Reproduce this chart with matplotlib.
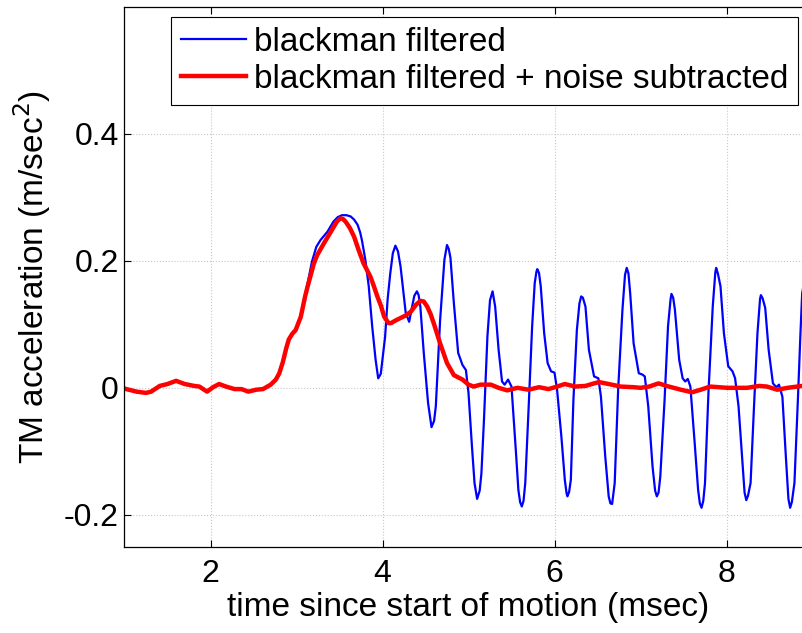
import matplotlib
matplotlib.use("Agg")
import matplotlib.pyplot as plt

plt.rcParams['font.family'] = ['Liberation Sans', 'DejaVu Sans']

# early part, both traces coincide
t_early = [1.00, 1.02, 1.14, 1.25, 1.31, 1.41, 1.50, 1.60, 1.70, 1.81, 1.87,
           1.96, 2.03, 2.10, 2.18, 2.28, 2.36, 2.44, 2.53, 2.61, 2.70, 2.76,
           2.80, 2.84, 2.88, 2.91, 2.95, 2.99, 3.05, 3.10]
a_early = [-0.001, -0.002, -0.006, -0.008, -0.006, 0.003, 0.006, 0.011, 0.006,
           0.003, 0.002, -0.006, 0.001, 0.006, 0.002, -0.002, -0.002, -0.006,
           -0.003, -0.002, 0.005, 0.013, 0.023, 0.040, 0.062, 0.076, 0.085,
           0.091, 0.112, 0.144]

# blackman filtered
t_blue = [3.13, 3.18, 3.23, 3.28, 3.36, 3.43, 3.48, 3.53, 3.58, 3.63, 3.67,
          3.71, 3.74, 3.76, 3.80, 3.84, 3.88, 3.92, 3.95, 3.98, 4.03, 4.06,
          4.09, 4.12, 4.15, 4.18, 4.21, 4.27, 4.31, 4.34, 4.37, 4.40, 4.42,
          4.44, 4.48, 4.53, 4.57, 4.60, 4.62, 4.67, 4.72, 4.75, 4.77, 4.79,
          4.83, 4.88, 4.93, 4.97, 5.00, 5.04, 5.07, 5.10, 5.13, 5.15, 5.18,
          5.22, 5.25, 5.28, 5.31, 5.35, 5.39, 5.42, 5.46, 5.50, 5.55, 5.58,
          5.60, 5.62, 5.64, 5.66, 5.70, 5.74, 5.77, 5.79, 5.80, 5.82, 5.84,
          5.88, 5.92, 5.96, 6.00, 6.03, 6.08, 6.12, 6.14, 6.15, 6.17, 6.19,
          6.22, 6.26, 6.29, 6.31, 6.33, 6.36, 6.40, 6.46, 6.51, 6.54, 6.59,
          6.63, 6.65, 6.67, 6.70, 6.74, 6.79, 6.82, 6.84, 6.86, 6.88, 6.92,
          6.98, 7.02, 7.05, 7.09, 7.14, 7.17, 7.19, 7.21, 7.23, 7.28, 7.32,
          7.35, 7.36, 7.38, 7.40, 7.45, 7.49, 7.52, 7.55, 7.58, 7.63, 7.67,
          7.69, 7.71, 7.73, 7.75, 7.79, 7.84, 7.87, 7.88, 7.90, 7.93, 7.97,
          8.02, 8.07, 8.10, 8.14, 8.18, 8.21, 8.23, 8.25, 8.28, 8.32, 8.36,
          8.39, 8.40, 8.42, 8.45, 8.49, 8.54, 8.58, 8.61, 8.65, 8.69, 8.72,
          8.74, 8.76, 8.79, 8.83, 8.86, 8.88, 8.92]
a_blue = [0.165, 0.199, 0.222, 0.233, 0.246, 0.262, 0.269, 0.272, 0.272, 0.270,
          0.265, 0.257, 0.245, 0.233, 0.202, 0.160, 0.097, 0.044, 0.015, 0.022,
          0.080, 0.140, 0.180, 0.212, 0.224, 0.215, 0.191, 0.118, 0.104, 0.125,
          0.145, 0.152, 0.146, 0.128, 0.055, -0.024, -0.062, -0.052, -0.029,
          0.107, 0.202, 0.225, 0.219, 0.205, 0.133, 0.055, 0.036, 0.028, -0.008,
          -0.092, -0.150, -0.175, -0.162, -0.135, -0.050, 0.081, 0.138, 0.152,
          0.128, 0.060, 0.010, 0.005, 0.013, 0.002, -0.098, -0.161, -0.180,
          -0.187, -0.178, -0.150, -0.029, 0.097, 0.165, 0.183, 0.187, 0.181,
          0.160, 0.086, 0.039, 0.026, 0.024, -0.003, -0.077, -0.145, -0.166,
          -0.171, -0.164, -0.145, -0.019, 0.091, 0.133, 0.144, 0.142, 0.128,
          0.060, 0.018, 0.015, -0.014, -0.108, -0.171, -0.182, -0.183, -0.150,
          -0.003, 0.123, 0.178, 0.189, 0.180, 0.149, 0.070, 0.023, 0.021, 0.018,
          -0.029, -0.124, -0.162, -0.171, -0.165, -0.140, -0.019, 0.097, 0.140,
          0.148, 0.142, 0.123, 0.044, 0.015, 0.010, 0.014, 0.002, -0.087, -0.161,
          -0.182, -0.189, -0.178, -0.150, -0.008, 0.128, 0.182, 0.189, 0.180,
          0.160, 0.086, 0.034, 0.026, 0.015, -0.029, -0.108, -0.165, -0.177,
          -0.170, -0.150, -0.029, 0.086, 0.140, 0.146, 0.141, 0.126, 0.060,
          0.007, 0.001, 0.005, -0.014, -0.108, -0.175, -0.189, -0.180, -0.150,
          -0.019, 0.086, 0.149, 0.180]

# blackman filtered + noise subtracted
t_red = [3.13, 3.16, 3.20, 3.24, 3.32, 3.40, 3.47, 3.51, 3.54, 3.57, 3.62,
         3.67, 3.72, 3.78, 3.86, 3.90, 3.94, 3.98, 4.02, 4.07, 4.10, 4.15,
         4.21, 4.27, 4.33, 4.39, 4.44, 4.48, 4.52, 4.56, 4.60, 4.67, 4.75,
         4.83, 4.93, 5.00, 5.06, 5.14, 5.26, 5.35, 5.45, 5.57, 5.70, 5.82,
         5.93, 6.03, 6.12, 6.24, 6.36, 6.46, 6.52, 6.63, 6.77, 6.92, 7.00,
         7.10, 7.21, 7.33, 7.47, 7.60, 7.70, 7.81, 8.01, 8.24, 8.38, 8.47,
         8.59, 8.71, 8.88, 8.95]
a_red = [0.160, 0.175, 0.195, 0.209, 0.228, 0.246, 0.262, 0.267, 0.266, 0.262,
         0.252, 0.238, 0.218, 0.196, 0.175, 0.160, 0.144, 0.130, 0.112, 0.102,
         0.102, 0.106, 0.110, 0.114, 0.120, 0.131, 0.137, 0.136, 0.128, 0.116,
         0.100, 0.070, 0.039, 0.020, 0.013, 0.005, 0.002, 0.005, 0.005, 0.000,
         -0.004, 0.000, -0.003, 0.001, -0.002, 0.002, 0.006, 0.002, 0.003,
         0.007, 0.009, 0.006, 0.002, 0.001, 0.000, 0.002, 0.007, 0.002, -0.003,
         -0.007, -0.003, 0.002, 0.000, 0.000, 0.003, 0.002, -0.003, 0.000,
         0.003, 0.004]

fig = plt.figure(figsize=(8.02, 6.33), dpi=100)
ax = fig.add_axes([124.5 / 802, (633 - 546.5) / 633, 688 / 802, (546.5 - 7) / 633])

ax.plot(t_early + t_blue, a_early + a_blue, color='#0000ff', lw=1.6,
        label='blackman filtered', solid_joinstyle='round')
ax.plot(t_early + t_red, a_early + a_red, color='#ff0000', lw=3.2,
        label='blackman filtered + noise subtracted', solid_joinstyle='round')

ax.set_xlim(1, 9)
ax.set_ylim(-0.25, 0.6)
ax.set_xticks([2, 4, 6, 8])
ax.set_yticks([-0.2, 0, 0.2, 0.4])
ax.set_yticklabels(['-0.2', '0', '0.2', '0.4'])
ax.grid(True, linestyle=':', color='0.78', lw=0.8)
ax.tick_params(direction='in', top=True, right=True, labelsize=23, length=5,
               width=0.8)
ax.tick_params(axis='x', pad=9)
ax.tick_params(axis='y', pad=4)
for s in ax.spines.values():
    s.set_linewidth(0.9)

ax.set_xlabel('time since start of motion (msec)', fontsize=24, labelpad=2)
ax.set_ylabel('TM acceleration (m/sec$^2$)', fontsize=24, labelpad=8)

leg = ax.legend(loc='upper right', bbox_to_anchor=(798 / 802, 1 - 17 / 633),
                bbox_transform=fig.transFigure, borderaxespad=0, fontsize=24,
                fancybox=False, framealpha=1, edgecolor='black',
                handlelength=1.95, handletextpad=0.22, labelspacing=0.18,
                borderpad=0.3)
leg.get_frame().set_linewidth(0.8)

fig.savefig('out.png', dpi=100)
